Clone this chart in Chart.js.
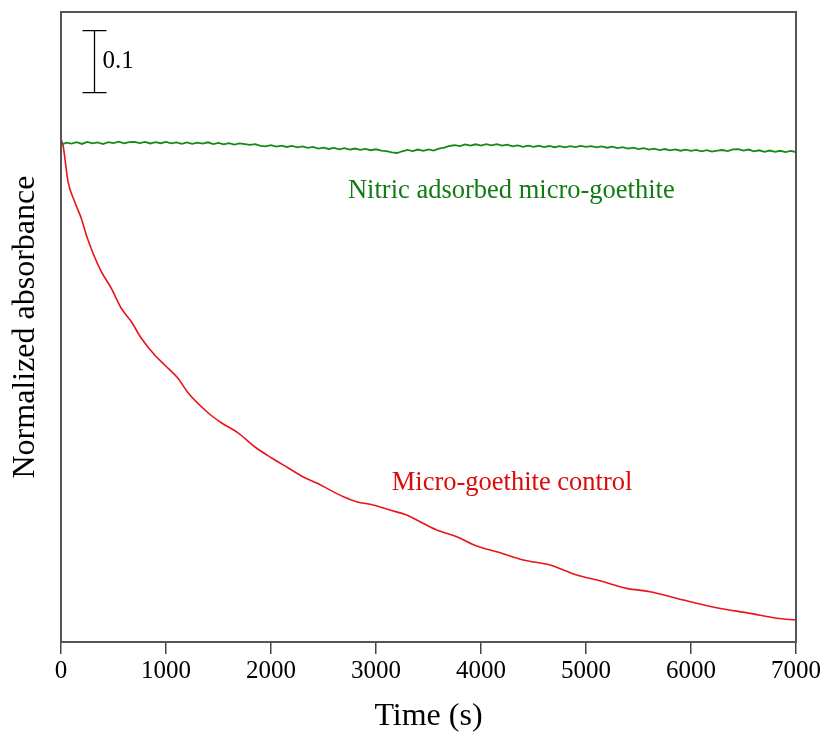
<!DOCTYPE html>
<html>
<head>
<meta charset="utf-8">
<script src="https://cdn.jsdelivr.net/npm/chart.js@4.4.1/dist/chart.umd.min.js"></script>
<style>
  html, body { margin: 0; padding: 0; background: #fff; }
  #wrap { width: 823px; height: 734px; }
</style>
</head>
<body>
<div id="wrap"><canvas id="chart" width="823" height="734"></canvas></div>
<script>
/** X axis ticks (s) */
const timeTicks = [0, 1000, 2000, 3000, 4000, 5000, 6000, 7000];

/** Nitric adsorbed micro-goethite, one reading every 50 s */
const nitricAbs = [
  0.9935, 0.9972, 0.9958, 0.9980, 0.9952, 0.9984, 0.9962, 0.9976, 0.9950, 0.9982,
  0.9966, 0.9989, 0.9963, 0.9983, 0.9986, 0.9967, 0.9984, 0.9960, 0.9980, 0.9964,
  0.9985, 0.9961, 0.9978, 0.9955, 0.9976, 0.9953, 0.9973, 0.9957, 0.9979, 0.9951,
  0.9970, 0.9945, 0.9965, 0.9943, 0.9961, 0.9948, 0.9936, 0.9950, 0.9921, 0.9914,
  0.9934, 0.9908, 0.9925, 0.9903, 0.9921, 0.9898, 0.9914, 0.9889, 0.9904, 0.9877,
  0.9894, 0.9871, 0.9888, 0.9866, 0.9883, 0.9861, 0.9878, 0.9856, 0.9873, 0.9851,
  0.9866, 0.9844, 0.9835, 0.9816, 0.9806, 0.9834, 0.9856, 0.9836, 0.9862, 0.9842,
  0.9864, 0.9845, 0.9875, 0.9894, 0.9919, 0.9933, 0.9916, 0.9945, 0.9924, 0.9947,
  0.9927, 0.9950, 0.9930, 0.9948, 0.9926, 0.9942, 0.9914, 0.9930, 0.9906, 0.9926,
  0.9904, 0.9923, 0.9902, 0.9919, 0.9899, 0.9916, 0.9897, 0.9918, 0.9900, 0.9920,
  0.9904, 0.9918, 0.9896, 0.9913, 0.9891, 0.9908, 0.9886, 0.9901, 0.9876, 0.9892,
  0.9868, 0.9884, 0.9860, 0.9875, 0.9854, 0.9870, 0.9848, 0.9864, 0.9843, 0.9860,
  0.9840, 0.9856, 0.9834, 0.9852, 0.9828, 0.9846, 0.9854, 0.9836, 0.9866, 0.9870,
  0.9846, 0.9862, 0.9834, 0.9850, 0.9826, 0.9846, 0.9824, 0.9842, 0.9822, 0.9839,
  0.9822
];
const nitricStep = 50;

/** Micro-goethite control, read at irregular times */
const controlTime = [
  0, 19, 67, 130, 193, 241, 305, 384, 479, 574,
  670, 765, 892, 988, 1114, 1212, 1403, 1530, 1689, 1848,
  2007, 2165, 2308, 2435, 2689, 2816, 2974, 3133, 3292, 3388,
  3578, 3769, 3959, 4149, 4403, 4657, 4911, 5133, 5388, 5610,
  5927, 6245, 6562, 6816, 7000
];
const controlAbs = [
  1.0030, 0.9935, 0.9344, 0.9021, 0.8753, 0.8484, 0.8189, 0.7892, 0.7624, 0.7302,
  0.7085, 0.6818, 0.6548, 0.6387, 0.6173, 0.5935, 0.5613, 0.5452, 0.5290, 0.5065,
  0.4887, 0.4726, 0.4581, 0.4484, 0.4263, 0.4182, 0.4129, 0.4048, 0.3968, 0.3887,
  0.3726, 0.3618, 0.3468, 0.3376, 0.3242, 0.3161, 0.3000, 0.2908, 0.2785, 0.2731,
  0.2597, 0.2473, 0.2382, 0.2302, 0.2274
];

/** Scale bar: 0.1 absorbance units */
const scaleBarTime = 315;
const scaleBarLow = 1.078;
const scaleBarSize = 0.1;
const scaleBarLabel = '0.1';

/** Curve labels: [text, time, absorbance, colour] */
const curveLabels = [
  ['Nitric adsorbed micro-goethite', 2733, 0.908, '#137a13'],
  ['Micro-goethite control', 3150, 0.437, '#dd0a0a'],
];

const SERIF = "'Liberation Serif', 'Times New Roman', serif";

const nitricPoints = nitricAbs.map((y, i) => ({x: i * nitricStep, y}));
const controlPoints = controlTime.map((x, i) => ({x, y: controlAbs[i]}));

/** Frame, scale bar and curve labels */
const decorations = {
  id: 'decorations',
  afterDraw: (chart) => {
    const {ctx, chartArea: a, scales: {x, y}} = chart;
    ctx.save();
    // frame
    ctx.strokeStyle = '#555';
    ctx.lineWidth = 2;
    ctx.strokeRect(a.left, a.top, a.right - a.left, a.bottom - a.top);

    // scale bar
    const bx = Math.round(x.getPixelForValue(scaleBarTime)) + 0.5;
    const by0 = y.getPixelForValue(scaleBarLow);
    const by1 = y.getPixelForValue(scaleBarLow + scaleBarSize);
    ctx.strokeStyle = '#000';
    ctx.lineWidth = 1.3;
    ctx.beginPath();
    ctx.moveTo(bx, by0);
    ctx.lineTo(bx, by1);
    ctx.moveTo(bx - 12, by0);
    ctx.lineTo(bx + 12, by0);
    ctx.moveTo(bx - 12, by1);
    ctx.lineTo(bx + 12, by1);
    ctx.stroke();
    ctx.fillStyle = '#000';
    ctx.font = `25px ${SERIF}`;
    ctx.textAlign = 'left';
    ctx.textBaseline = 'middle';
    ctx.fillText(scaleBarLabel, bx + 8, (by0 + by1) / 2);

    // curve labels
    ctx.font = `26.5px ${SERIF}`;
    ctx.textBaseline = 'alphabetic';
    curveLabels.forEach(([text, t, v, color]) => {
      ctx.fillStyle = color;
      ctx.fillText(text, x.getPixelForValue(t), y.getPixelForValue(v));
    });
    ctx.restore();
  }
};

new Chart(document.getElementById('chart'), {
  type: 'line',
  data: {
    datasets: [{
      label: 'Nitric adsorbed micro-goethite',
      data: nitricPoints,
      borderColor: '#168a16',
      borderWidth: 1.8,
      pointRadius: 0,
      tension: 0,
    }, {
      label: 'Micro-goethite control',
      data: controlPoints,
      borderColor: '#e8141b',
      borderWidth: 1.6,
      pointRadius: 0,
      cubicInterpolationMode: 'monotone',
    }]
  },
  options: {
    responsive: false,
    animation: false,
    layout: {
      padding: {top: 12, right: 27, left: 0, bottom: 0}
    },
    scales: {
      x: {
        type: 'linear',
        min: timeTicks[0],
        max: timeTicks[timeTicks.length - 1],
        afterBuildTicks: (scale) => {
          scale.ticks = timeTicks.map(value => ({value}));
        },
        afterFit: (scale) => {
          scale.height = 92;
        },
        border: {display: false},
        grid: {
          display: true,
          drawOnChartArea: false,
          drawTicks: true,
          tickLength: 12,
          color: '#444',
          lineWidth: 1.5,
        },
        ticks: {
          color: '#000',
          padding: 2,
          maxRotation: 0,
          font: {family: SERIF, size: 25},
          callback: (value) => String(value),
        },
        title: {
          display: true,
          text: 'Time (s)',
          color: '#000',
          padding: {top: 0, bottom: 0},
          font: {family: SERIF, size: 32, lineHeight: 1.1},
        }
      },
      y: {
        min: 0.192,
        max: 1.208,
        afterFit: (scale) => {
          scale.width = 61;
        },
        border: {display: false},
        grid: {display: false},
        ticks: {display: false},
        title: {
          display: true,
          text: 'Normalized absorbance',
          color: '#000',
          padding: {top: 6, bottom: 0},
          font: {family: SERIF, size: 32},
        }
      }
    },
    plugins: {
      legend: {display: false},
      tooltip: {enabled: false},
    }
  },
  plugins: [decorations],
});
</script>
</body>
</html>
